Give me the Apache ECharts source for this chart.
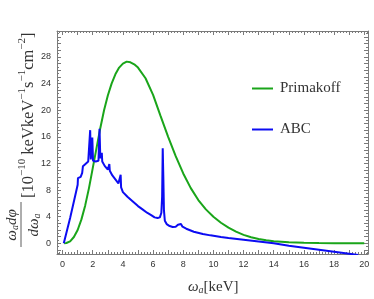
<!DOCTYPE html>
<html><head><meta charset="utf-8">
<script src="https://cdn.jsdelivr.net/npm/echarts@6/dist/echarts.min.js"></script>
<style>html,body{margin:0;padding:0;background:#fff}#c{width:374px;height:299px}</style>
</head><body><div id="c"></div>
<script>
// ---- data ----
const xTickLabels = [0, 2, 4, 6, 8, 10, 12, 14, 16, 18, 20];
const yTickLabels = [0, 4, 8, 12, 16, 20, 24, 28];

const primakoffX = [0.1, 0.25, 0.5, 0.75, 1.0, 1.25, 1.5, 1.75, 2.0, 2.25, 2.5, 2.75, 3.0, 3.25, 3.5, 3.75, 4.0, 4.25, 4.5, 4.75, 5.0, 5.5, 6.0, 6.5, 7.0, 7.5, 8.0, 8.5, 9.0, 9.5, 10, 10.5, 11, 11.5, 12, 12.5, 13, 13.5, 14, 15, 16, 17, 18, 19, 20];
const primakoffY = [0, 0.05, 0.3, 0.95, 2.0, 3.6, 5.7, 8.3, 11.3, 14.3, 17.3, 20.0, 22.2, 24.0, 25.4, 26.4, 27.0, 27.3, 27.2, 26.9, 26.4, 24.8, 22.3, 19.1, 16.0, 13.1, 10.5, 8.3, 6.5, 5.1, 4.0, 3.1, 2.35, 1.75, 1.28, 0.92, 0.65, 0.46, 0.32, 0.16, 0.08, 0.04, 0.02, 0.01, 0];

const abcX = [0.08, 0.3, 0.5, 0.7, 0.9, 1.0, 1.02, 1.1, 1.15, 1.2, 1.3, 1.35, 1.4, 1.45, 1.5, 1.55, 1.6, 1.7, 1.78, 1.83, 1.87, 1.9, 1.97, 2.02, 2.1, 2.2, 2.3, 2.38, 2.45, 2.5, 2.55, 2.6, 2.63, 2.7, 2.8, 2.9, 3.0, 3.05, 3.1, 3.13, 3.3, 3.5, 3.7, 3.8, 3.85, 3.88, 4.0, 4.3, 4.6, 5.0, 5.3, 5.6, 5.9, 6.1, 6.3, 6.45, 6.55, 6.6, 6.64, 6.68, 6.72, 6.78, 6.9, 7.1, 7.3, 7.5, 7.65, 7.75, 7.85, 7.95, 8.2, 8.7, 9.3, 9.8, 10.5, 11, 12, 13, 14, 15, 16, 17, 18, 19, 19.6];
const abcY = [0, 2.0, 3.8, 5.8, 7.8, 8.8, 9.8, 9.9, 10.1, 10.0, 10.6, 11.6, 11.5, 11.4, 11.9, 11.7, 12.1, 12.3, 12.5, 17.0, 12.6, 12.5, 15.9, 12.4, 12.3, 12.3, 12.3, 12.4, 17.2, 12.8, 12.6, 13.6, 12.3, 12.0, 11.6, 11.3, 11.1, 11.2, 11.9, 10.9, 10.2, 9.6, 9.0, 8.8, 10.3, 8.4, 7.7, 7.0, 6.4, 5.6, 5.1, 4.6, 4.2, 3.9, 3.8, 3.9, 4.6, 7.0, 14.3, 10.0, 5.0, 3.4, 2.9, 2.6, 2.45, 2.5, 2.8, 3.1, 2.9, 2.5, 2.2, 1.75, 1.4, 1.2, 0.95, 0.8, 0.55, 0.28, 0.0, -0.35, -0.65, -0.95, -1.25, -1.55, -1.75];

// ---- helpers ----
function zip(a, b) { return a.map((v, i) => [v, b[i]]); }
function steps(a, b, s) { const r = []; for (let v = a; v <= b + 1e-9; v += s) r.push(+v.toFixed(3)); return r; }

const XMIN = -0.37, XMAX = 20.25, YMIN = -1.6, YMAX = 31.9;
const TICKC = '#7a7a7a';
const xMajor = steps(0, 20, 1), xMinor = steps(-0.2, 20.2, 0.2);
const yMajor = steps(-1, 31, 1), yMinor = steps(-1.5, 31.5, 0.5);

function xa(pos, ticks, len, labels) {
  return {
    type: 'value', position: pos, min: XMIN, max: XMAX,
    axisLine: { show: !!labels, onZero: false, lineStyle: { color: TICKC, width: 1 } },
    axisTick: { show: true, inside: true, length: len, customValues: ticks, lineStyle: { color: TICKC, width: 1 } },
    axisLabel: labels ? { show: true, customValues: labels, margin: 6, fontSize: 9, color: '#333', fontFamily: 'Liberation Sans' } : { show: false },
    splitLine: { show: false }
  };
}
function ya(pos, ticks, len, labels) {
  return {
    type: 'value', position: pos, min: YMIN, max: YMAX,
    axisLine: { show: !!labels, onZero: false, lineStyle: { color: TICKC, width: 1 } },
    axisTick: { show: true, inside: true, length: len, customValues: ticks, lineStyle: { color: TICKC, width: 1 } },
    axisLabel: labels ? { show: pos === 'left', customValues: labels, margin: 6, fontSize: 9, color: '#333', fontFamily: 'Liberation Sans' } : { show: false },
    splitLine: { show: false }
  };
}

const chart = echarts.init(document.getElementById('c'), null, { renderer: 'canvas' });
const serif = 'Liberation Serif';
chart.setOption({
  animation: false,
  backgroundColor: '#fff',
  grid: { left: 57, right: 6, top: 31, bottom: 45, containLabel: false },
  xAxis: [
    xa('bottom', xMajor, 4, xTickLabels),
    xa('bottom', xMinor, 2, null),
    xa('top', xMajor, 4, []),
    xa('top', xMinor, 2, null)
  ],
  yAxis: [
    ya('left', yMajor, 4, yTickLabels),
    ya('left', yMinor, 2, null),
    ya('right', yMajor, 4, []),
    ya('right', yMinor, 2, null)
  ],
  legend: {
    data: ['Primakoff', 'ABC'],
    orient: 'vertical', left: 247, top: 76, itemGap: 26,
    icon: 'rect', itemWidth: 21, itemHeight: 2,
    textStyle: { fontFamily: serif, fontSize: 15, color: '#333', padding: [0, 0, 0, 2] }
  },
  series: [
    { name: 'Primakoff', type: 'line', data: zip(primakoffX, primakoffY), showSymbol: false,
      lineStyle: { color: '#1aa51a', width: 2 }, itemStyle: { color: '#1aa51a' }, xAxisIndex: 0, yAxisIndex: 0 },
    { name: 'ABC', type: 'line', data: zip(abcX, abcY), showSymbol: false,
      lineStyle: { color: '#0c0cf2', width: 2 }, itemStyle: { color: '#0c0cf2' }, xAxisIndex: 0, yAxisIndex: 0 }
  ],
  graphic: [
    { type: 'text', left: 188, top: 280,
      style: { text: '{i|ω}{s|a}{n|[keV]}', rich: {
        i: { fontFamily: serif, fontStyle: 'italic', fontSize: 15, verticalAlign: 'bottom', lineHeight: 18, fill: '#333' },
        s: { fontFamily: serif, fontStyle: 'italic', fontSize: 10, verticalAlign: 'bottom', lineHeight: 14, fill: '#333' },
        n: { fontFamily: serif, fontSize: 15, verticalAlign: 'bottom', lineHeight: 18, fill: '#333' } } } },
    { type: 'group', x: 21, y: 248, rotation: Math.PI / 2, children: [
      { type: 'text', x: 23, y: -1, style: { text: '{i|ω}{s|a}{n|d}{i|φ}', align: 'center', verticalAlign: 'bottom', rich: {
        i: { fontFamily: serif, fontStyle: 'italic', fontSize: 15, verticalAlign: 'bottom', lineHeight: 16, fill: '#333' },
        n: { fontFamily: serif, fontStyle: 'italic', fontSize: 15, verticalAlign: 'bottom', lineHeight: 16, fill: '#333' },
        s: { fontFamily: serif, fontStyle: 'italic', fontSize: 10, verticalAlign: 'bottom', lineHeight: 12, fill: '#333' } } } },
      { type: 'line', shape: { x1: 1, y1: 0, x2: 46, y2: 0 }, style: { stroke: '#333', lineWidth: 0.8 } },
      { type: 'text', x: 23, y: 1, style: { text: '{n|d}{i|ω}{s|a}', align: 'center', verticalAlign: 'top', rich: {
        i: { fontFamily: serif, fontStyle: 'italic', fontSize: 15, verticalAlign: 'bottom', lineHeight: 16, fill: '#333' },
        n: { fontFamily: serif, fontStyle: 'italic', fontSize: 15, verticalAlign: 'bottom', lineHeight: 16, fill: '#333' },
        s: { fontFamily: serif, fontStyle: 'italic', fontSize: 10, verticalAlign: 'bottom', lineHeight: 20, fill: '#333' } } } },
      { type: 'text', x: 50, y: 6, style: { text: '{b|[10}{p|−10}{b| keVkeV}{p|−1}{b|s}{p|−1}{b|cm}{p|−2}{b|]}', align: 'left', verticalAlign: 'middle', rich: {
        b: { fontFamily: serif, fontSize: 16.5, verticalAlign: 'bottom', lineHeight: 21, fill: '#333' },
        p: { fontFamily: serif, fontSize: 11, verticalAlign: 'top', lineHeight: 21, fill: '#333' } } } }
    ] }
  ]
});
</script>
</body></html>
